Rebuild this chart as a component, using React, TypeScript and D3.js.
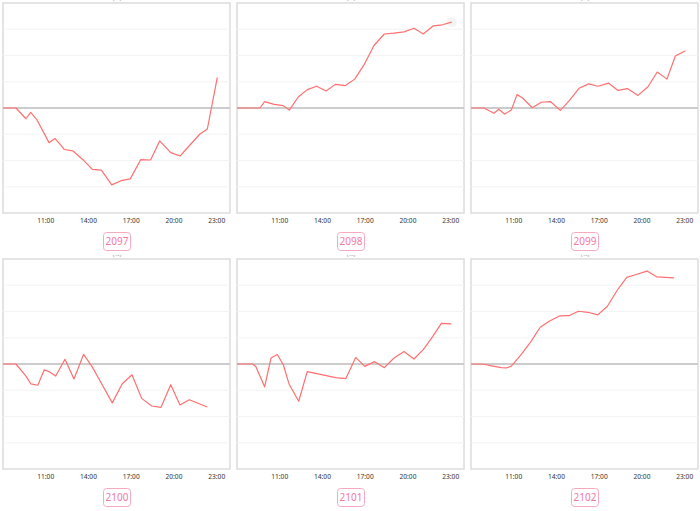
import React from 'react';
import * as d3 from 'd3';

const panelIds = ['2097', '2098', '2099', '2100', '2101', '2102'];

const hours2097 = [8, 8.91, 9.61, 9.94, 10.36, 11.23, 11.65, 12.3, 12.89, 13.59, 14.27, 14.9, 15.63, 16.28, 16.93, 17.66, 18.36, 19.0, 19.77, 20.42, 21.12, 21.82, 22.34, 23.04];
const values2097 = [0, 0, -0.41, -0.17, -0.43, -1.32, -1.16, -1.58, -1.63, -1.96, -2.34, -2.37, -2.93, -2.77, -2.7, -1.97, -1.98, -1.25, -1.7, -1.83, -1.41, -0.99, -0.8, 1.17];

const hours2098 = [8, 9.61, 9.94, 10.6, 11.25, 11.67, 12.3, 12.93, 13.59, 14.25, 14.9, 15.58, 16.26, 16.91, 17.61, 18.34, 19.02, 19.72, 20.42, 21.07, 21.78, 22.41, 23.07];
const values2098 = [0, 0, 0.24, 0.14, 0.09, -0.08, 0.42, 0.7, 0.83, 0.65, 0.9, 0.85, 1.1, 1.64, 2.38, 2.82, 2.85, 2.9, 3.04, 2.82, 3.13, 3.17, 3.27];

const hours2099 = [8, 8.91, 9.61, 9.94, 10.36, 10.83, 11.23, 11.6, 12.3, 12.93, 13.59, 14.27, 14.9, 15.58, 16.26, 16.91, 17.64, 18.32, 18.97, 19.72, 20.42, 21.07, 21.75, 22.34, 23.05];
const values2099 = [0, 0, -0.2, -0.05, -0.23, -0.08, 0.51, 0.39, 0.01, 0.22, 0.24, -0.09, 0.28, 0.75, 0.92, 0.83, 0.95, 0.67, 0.74, 0.48, 0.81, 1.37, 1.1, 1.98, 2.18];

const hours2100 = [8, 8.91, 9.61, 9.96, 10.44, 10.9, 11.3, 11.7, 12.35, 12.98, 13.66, 14.25, 14.97, 15.67, 16.37, 17.05, 17.73, 18.44, 19.09, 19.77, 20.42, 21.07, 22.34];
const values2100 = [0, 0, -0.46, -0.76, -0.81, -0.22, -0.31, -0.46, 0.18, -0.57, 0.37, -0.1, -0.8, -1.48, -0.75, -0.41, -1.31, -1.6, -1.65, -0.79, -1.56, -1.36, -1.64];

const hours2101 = [8, 9.07, 9.31, 9.94, 10.39, 10.83, 11.25, 11.65, 12.33, 12.93, 14.92, 15.63, 16.33, 16.96, 17.66, 18.34, 19.02, 19.72, 20.42, 21.07, 21.73, 22.34, 23.04];
const values2101 = [0, 0, -0.09, -0.87, 0.23, 0.36, -0.03, -0.76, -1.42, -0.29, -0.52, -0.56, 0.25, -0.09, 0.09, -0.14, 0.23, 0.48, 0.19, 0.55, 1.04, 1.55, 1.53];

const hours2102 = [8, 8.91, 9.54, 10.13, 10.48, 10.83, 11.53, 12.19, 12.86, 13.52, 14.22, 14.88, 15.53, 16.21, 16.89, 17.56, 18.25, 18.93, 19.6, 20.35, 21.03, 22.25];
const values2102 = [0, -0.01, -0.08, -0.14, -0.15, -0.08, 0.37, 0.84, 1.4, 1.64, 1.83, 1.84, 2.01, 1.97, 1.87, 2.19, 2.8, 3.3, 3.41, 3.54, 3.32, 3.28];

const panelHours = [hours2097, hours2098, hours2099, hours2100, hours2101, hours2102];
const panelValues = [values2097, values2098, values2099, values2100, values2101, values2102];

const tickHours = [11, 14, 17, 20, 23];
const tickLabels = ['11:00', '14:00', '17:00', '20:00', '23:00'];
const gridValues = [-3, -2, -1, 1, 2, 3];
const panelTitle = '(%)';

const W = 700;
const H = 511;
const PW = 227;
const PH = 210;
const LINE_COLOR = '#ff6f6f';
const PINK = '#f2799f';

function Panel({ idx }: { idx: number }) {
  const col = idx % 3;
  const row = Math.floor(idx / 3);
  const x0 = 3 + col * 234;
  const y0 = 3 + row * 256;
  const x = d3.scaleLinear().domain([8, 24]).range([x0, x0 + 228]);
  const y = d3.scaleLinear().domain([-4, 4]).range([y0 + PH, y0]);
  const hrs = panelHours[idx];
  const vals = panelValues[idx];
  const pts: [number, number][] = hrs.map((h, i) => [h, vals[i]]);
  const line = d3
    .line<[number, number]>()
    .x((d) => x(d[0]))
    .y((d) => y(d[1]));
  const cx = x0 + 114;
  const last = pts[pts.length - 1];
  const clipId = `tclip${idx}`;
  return (
    <g>
      <defs>
        <clipPath id={clipId}>
          <rect x={cx - 20} y={y0 - 4} width={40} height={3} />
        </clipPath>
      </defs>
      <text
        x={cx}
        y={y0 - 3}
        textAnchor="middle"
        fontSize={6}
        fill="#888"
        fontFamily="'Noto Sans', sans-serif"
        clipPath={`url(#${clipId})`}
      >
        {panelTitle}
      </text>
      <rect x={x0} y={y0} width={PW} height={PH} fill="#fff" stroke="#dcdcdc" strokeWidth={1.5} />
      {gridValues.map((g) => (
        <line key={g} x1={x0} x2={x0 + PW} y1={y(g)} y2={y(g)} stroke="#f3f3f3" strokeWidth={1} />
      ))}
      <line x1={x0} x2={x0 + PW} y1={y(0)} y2={y(0)} stroke="#cccccc" strokeWidth={2} />
      {idx === 1 && <circle cx={x(last[0])} cy={y(last[1])} r={5} fill="#f4f4f4" />}
      <path d={line(pts) || ''} fill="none" stroke={LINE_COLOR} strokeWidth={1.2} strokeLinejoin="round" />
      {tickHours.map((t, i) => (
        <text
          key={t}
          x={x(t)}
          y={y0 + PH + 10}
          textAnchor="middle"
          fontSize={6.6}
          fill="#333"
          fontFamily="'Noto Sans', sans-serif"
        >
          {tickLabels[i]}
        </text>
      ))}
      <rect x={cx - 13.5} y={y0 + PH + 19.5} width={27} height={18} rx={3} ry={3} fill="#fff" stroke="#f7a9c0" strokeWidth={1} />
      <text
        x={cx}
        y={y0 + PH + 32.3}
        textAnchor="middle"
        fontSize={10}
        fill={PINK}
        fontFamily="'Noto Sans', sans-serif"
      >
        {panelIds[idx]}
      </text>
    </g>
  );
}

export default function App() {
  return (
    <svg
      width={W}
      height={H}
      style={{ position: 'absolute', left: 0, top: 0, background: '#fff' }}
    >
      {panelIds.map((id, i) => (
        <Panel key={id} idx={i} />
      ))}
    </svg>
  );
}
